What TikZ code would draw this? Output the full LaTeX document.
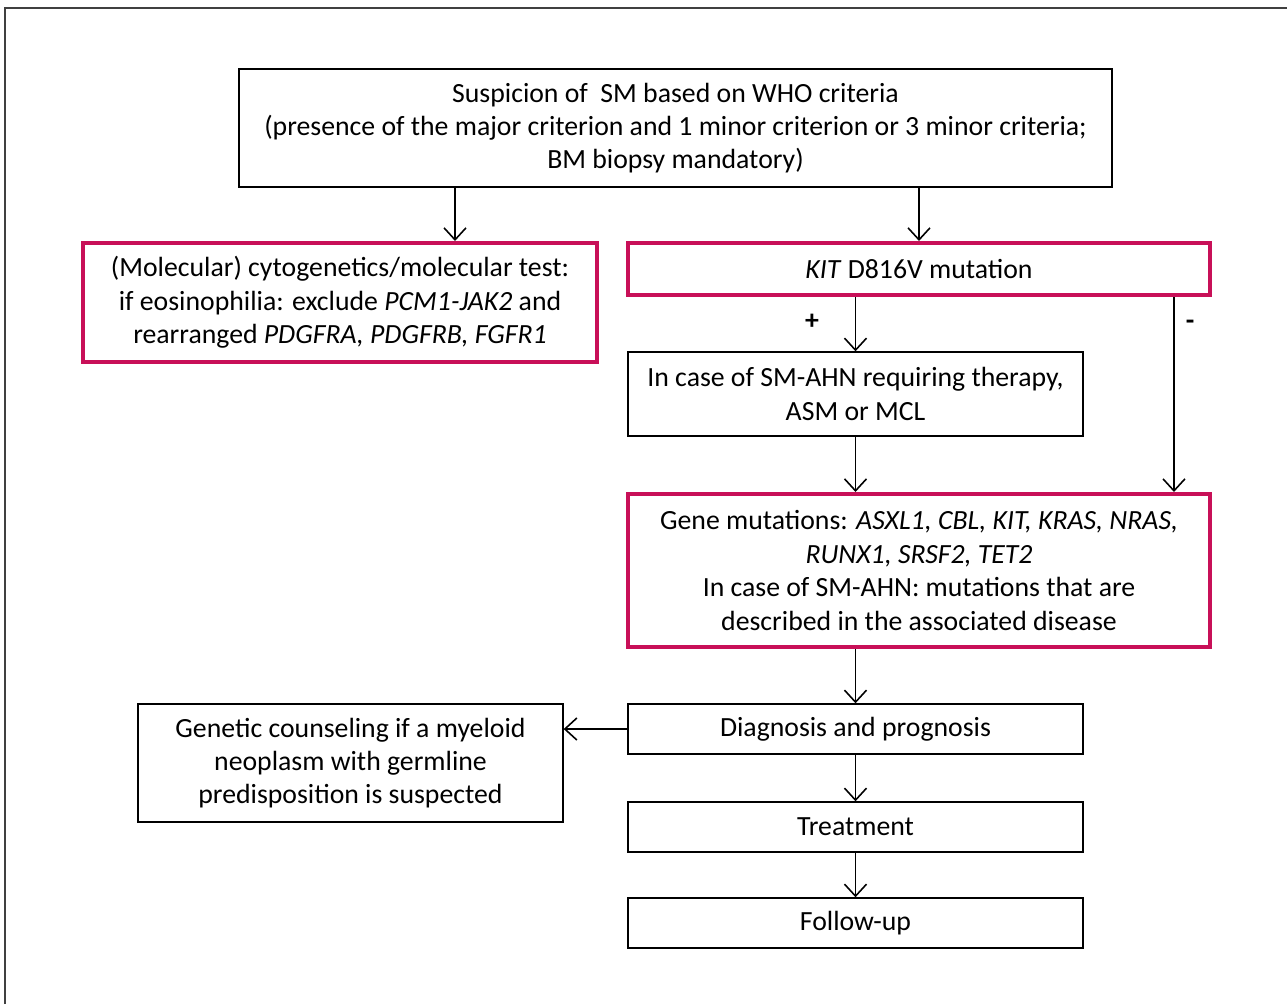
\documentclass[tikz,border=0pt]{standalone}
\usepackage{fontspec}
\setmainfont{Carlito}
\usetikzlibrary{arrows.meta, positioning, calc}

\definecolor{keypink}{RGB}{200,16,88}

\begin{document}
\begin{tikzpicture}[x=0.02cm, y=-0.02cm,
    block/.style={rectangle, draw, line width=0.8pt, align=center, font=\fontsize{15.8}{19}\selectfont, inner sep=0pt},
    keyblock/.style={block, draw=keypink, line width=2.3pt},
    arrow/.style={-{Straight Barb[length=2.4mm, width=4.4mm, line width=0.9pt]}, line width=0.9pt},
    sign/.style={font=\fontsize{15.8}{19}\selectfont\bfseries},
]

% Frame
\useasboundingbox (0,0) rectangle (1287,1004);
\draw[line width=0.9pt, black!75] (5,1004) -- (5,8) -- (1287,8);

% Diagnosis
\node[block, minimum width=17.46cm, minimum height=2.36cm] (suspicion) at (675.5,128)
    {Suspicion of \ SM based on WHO criteria\\(presence of the major criterion and 1 minor criterion or 3 minor criteria;\\BM biopsy mandatory)};

\node[keyblock, minimum width=10.28cm, minimum height=2.38cm] (cytogen) at (340,302.5)
    {(Molecular) cytogenetics/molecular test:\\if eosinophilia: exclude \textit{PCM1-JAK2} and\\rearranged \textit{PDGFRA, PDGFRB, FGFR1}};

\node[keyblock, minimum width=11.64cm, minimum height=1.04cm] (kit) at (919,269)
    {\textit{KIT} D816V mutation};

\node[block, minimum width=9.1cm, minimum height=1.68cm] (smahn) at (855.5,394)
    {In case of SM-AHN requiring therapy,\\ASM or MCL};

\node[keyblock, minimum width=11.64cm, minimum height=3.06cm] (genes) at (919,570.5)
    {Gene mutations: \textit{ASXL1, CBL, KIT, KRAS, NRAS,}\\\textit{RUNX1, SRSF2, TET2}\\In case of SM-AHN: mutations that are\\described in the associated disease};

% Outcome
\node[block, minimum width=9.1cm, minimum height=1.0cm] (diag) at (855.5,729) {Diagnosis and prognosis};
\node[block, minimum width=8.5cm, minimum height=2.36cm] (counsel) at (350.5,763)
    {Genetic counseling if a myeloid\\neoplasm with germline\\predisposition is suspected};
\node[block, minimum width=9.1cm, minimum height=1.0cm] (treat) at (855.5,827) {Treatment};
\node[block, minimum width=9.1cm, minimum height=1.0cm] (follow) at (855.5,923) {Follow-up};

% Connections
\coordinate (cytotop) at ($(cytogen.north)+(115,0)$);
\coordinate (kitneg) at ($(kit.south east)+(-38,0)$);

\draw[arrow] (suspicion.south -| cytotop) -- (cytotop);
\draw[arrow] (suspicion.south -| kit) -- (kit.north);
\draw[arrow] (kit.south -| smahn) -- node[sign, pos=0.45, left=17pt]{+} (smahn.north);
\draw[arrow] (kitneg) -- (genes.north -| kitneg);
\node[sign] (minus) at (1190,325) {-};
\draw[arrow] (smahn.south) -- (genes.north -| smahn);
\draw[arrow] (genes.south -| diag) -- (diag.north);
\draw[arrow] (diag.west) -- (diag.west -| counsel.east);
\draw[arrow] (diag.south) -- (treat.north);
\draw[arrow] (treat.south) -- (follow.north);

\end{tikzpicture}
\end{document}
